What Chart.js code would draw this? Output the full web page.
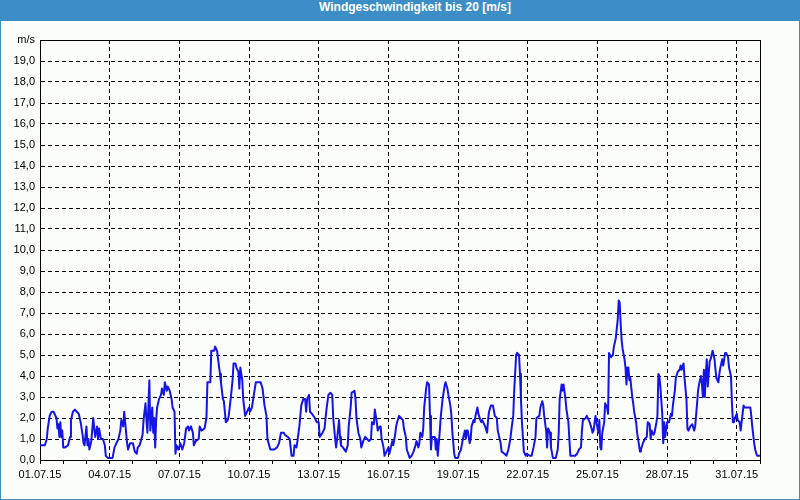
<!DOCTYPE html>
<html lang="de">
<head>
<meta charset="UTF-8">
<title>Windgeschwindigkeit</title>
<script src="https://cdn.jsdelivr.net/npm/chart.js"></script>
<style>
  body { margin: 0; background: #fff; }
  #wrap { width: 800px; height: 500px; box-sizing: border-box; border: 1px solid #3d8ec6; border-top: 0; background: #fbfdfb; }
  #head { height: 21px; line-height: 20px; background: #3d8ec6; color: #fff; font: bold 12px "Liberation Sans", Arial, sans-serif; text-align: center; padding-left: 30px; }
  canvas { display: block; }
</style>
</head>
<body>
<div id="wrap">
  <div id="head">Windgeschwindigkeit bis 20 [m/s]</div>
  <canvas id="wind" width="798" height="478"></canvas>
</div>
<script>
  // Stunden ab 01.07.15 00:00
  const hours = [0,5,7,8,10,12,14,17,18,19,20,21,22,23,24,26,29,31,32,34,36,38,40,42,44,45,46,48,49,50,51,53,55,57,59,60,61,63,65,67,68,70,74,75,77,81,83,84,86,87,88,90,91,93,96,98,100,101,103,106,107,109,110,111,113,114,116,117,118,119,120,121,123,125,126,128,129,131,132,134,136,137,139,140,141,143,145,147,149,151,153,154,156,158,159,161,164,165,167,170,172,173,176,177,180,181,183,184,186,187,189,190,192,194,195,197,199,200,202,203,205,206,207,209,210,212,214,216,217,219,221,223,226,228,230,232,234,235,238,242,245,247,249,252,253,256,258,260,262,263,265,266,268,270,272,274,275,276,278,279,281,284,286,288,289,292,294,296,298,300,302,303,305,306,307,309,310,311,313,316,318,319,321,322,325,326,327,329,331,332,334,336,338,340,342,343,345,346,348,349,351,352,353,355,356,358,360,361,362,364,365,367,368,369,371,373,375,376,378,379,382,384,386,388,389,391,392,393,395,396,397,399,400,402,403,404,405,408,409,410,411,413,414,416,418,419,421,422,424,425,426,428,429,432,433,435,437,439,440,441,442,444,445,446,448,449,450,452,453,455,456,457,460,462,463,464,466,468,470,472,473,475,476,477,480,482,484,486,487,489,490,492,493,495,496,497,498,500,502,503,506,508,510,512,513,516,517,519,520,521,523,524,525,527,528,530,533,535,536,537,539,540,541,543,544,546,547,548,550,553,555,557,559,560,561,564,565,567,568,570,571,572,574,575,577,578,579,580,581,583,584,586,587,588,590,592,593,595,597,598,599,600,601,602,604,605,606,607,608,609,610,612,613,614,616,617,619,620,621,623,625,627,628,630,631,632,634,635,637,638,639,640,641,643,644,645,646,648,650,652,653,654,656,657,659,661,662,663,665,666,668,669,670,672,674,676,677,679,680,681,683,684,685,686,687,688,689,690,692,693,695,697,698,699,701,702,703,705,706,708,709,711,712,714,715,716,717,718,720,721,723,724,725,727,728,732,734,735,736,738,739,741,742,744];
  // Windgeschwindigkeit in m/s
  const speed = [0.7,0.7,1.0,1.5,2.1,2.3,2.3,2.0,1.5,1.7,1.1,1.8,1.1,1.4,0.6,0.6,0.7,1.1,1.9,2.3,2.4,2.3,2.2,1.8,1.2,0.8,0.7,1.6,0.7,1.0,0.5,0.9,2.0,1.1,1.6,1.0,1.5,1.0,1.0,0.7,0.2,0.1,0.1,0.1,0.6,1.0,1.4,1.9,1.6,2.3,1.8,0.8,0.5,0.8,0.8,0.4,0.3,0.6,0.7,1.2,1.9,2.7,1.9,1.3,3.8,1.4,2.5,1.3,2.0,0.6,1.9,2.5,2.9,3.1,3.4,3.1,3.7,3.3,3.5,3.3,2.9,2.5,2.3,0.3,0.7,0.5,0.8,0.5,0.8,1.5,1.6,1.4,1.6,1.3,0.7,0.9,1.0,1.6,1.4,1.5,2.0,3.7,3.7,5.2,5.2,5.4,5.2,4.8,4.1,3.7,2.9,2.8,1.8,1.9,2.1,2.9,3.8,4.6,4.6,4.4,4.2,3.4,4.4,3.8,2.9,2.1,2.3,2.5,2.3,2.5,3.1,3.7,3.7,3.7,3.4,2.6,2.1,1.0,0.5,0.5,0.6,0.8,1.3,1.3,1.2,1.1,1.0,0.2,0.2,0.7,0.6,0.9,1.6,2.6,2.9,2.9,2.3,2.9,3.1,2.3,2.2,2.0,1.8,1.8,1.1,1.3,1.5,2.4,3.1,3.2,3.1,2.0,1.0,0.6,1.0,1.9,1.1,0.7,0.6,0.4,0.7,1.6,2.5,3.2,3.3,2.9,2.0,1.3,1.0,0.6,0.9,1.1,1.0,0.9,1.0,1.8,1.7,2.4,1.8,1.4,1.6,1.6,1.0,0.6,0.2,0.4,0.6,0.3,0.5,0.9,0.7,1.2,1.6,1.8,2.1,2.0,1.9,1.5,1.1,0.5,0.1,0.2,0.4,0.7,0.9,0.6,0.8,1.3,1.1,1.5,2.5,3.4,3.7,3.6,2.1,0.5,1.1,1.1,0.5,1.0,0.2,1.3,2.0,2.9,3.5,3.7,3.4,3.1,2.6,2.2,1.4,0.3,0.1,0.1,0.3,0.5,1.0,1.4,1.0,1.4,1.4,0.8,1.0,1.6,1.9,1.8,2.1,2.5,2.2,1.9,1.8,1.9,1.6,1.3,1.9,2.3,2.6,2.6,2.1,2.0,1.4,1.0,0.8,0.4,0.3,0.2,0.5,1.0,1.4,2.1,3.3,5.0,5.1,5.0,4.1,2.9,1.8,0.4,0.2,0.3,0.2,0.2,0.6,1.1,2.0,2.1,2.5,2.8,2.6,2.1,1.4,0.6,1.5,1.3,0.6,0.1,0.1,0.5,1.3,2.9,3.6,3.3,3.6,2.9,2.4,1.8,1.0,0.2,0.2,0.2,0.3,0.5,0.6,1.4,1.9,2.0,2.1,1.9,1.8,1.5,1.3,1.4,2.1,1.8,1.3,1.9,0.6,0.5,1.3,1.8,2.7,2.5,2.2,5.1,4.9,5.0,5.4,5.8,6.7,7.6,7.5,6.5,5.7,5.3,4.8,4.4,3.6,4.4,4.4,3.8,3.9,3.0,2.7,2.3,1.8,1.3,0.7,0.4,0.5,0.8,1.0,1.1,1.8,1.7,1.0,1.4,1.2,1.3,1.8,2.1,4.1,4.0,3.5,2.2,0.8,1.8,1.1,1.8,1.8,2.2,2.1,2.6,3.3,3.9,4.2,4.3,4.5,4.3,4.6,3.9,2.9,1.5,1.4,1.6,1.7,1.4,1.6,2.7,3.3,3.6,4.0,3.6,3.0,4.3,3.0,4.1,4.8,3.5,4.7,4.8,5.2,4.8,4.3,3.9,3.7,4.1,4.4,4.8,4.5,5.1,5.1,4.9,4.4,4.0,2.7,1.8,1.8,2.0,2.2,1.9,1.8,1.4,1.8,2.6,2.5,2.5,2.5,2.1,1.6,0.8,0.5,0.2,0.2,0.2];
  const dateLabels = ['01.07.15','04.07.15','07.07.15','10.07.15','13.07.15','16.07.15','19.07.15','22.07.15','25.07.15','28.07.15','31.07.15'];
  const yUnit = 'm/s';

  Chart.defaults.font.family = '"Liberation Sans", Arial, sans-serif';
  Chart.defaults.font.size = 11;
  Chart.defaults.color = '#000';

  // Rahmen um die Zeichenfläche
  const frame = {
    id: 'frame',
    beforeDatasetsDraw(chart) {
      const a = chart.chartArea, c = chart.ctx;
      c.save();
      c.strokeStyle = '#000';
      c.lineWidth = 1;
      c.strokeRect(Math.round(a.left) + 0.5, Math.round(a.top) + 0.5, Math.round(a.right - a.left), Math.round(a.bottom - a.top));
      c.restore();
    }
  };

  new Chart(document.getElementById('wind'), {
    type: 'line',
    data: {
      datasets: [{
        data: hours.map((h, i) => ({ x: h, y: speed[i] })),
        borderColor: '#1414e6',
        borderWidth: 2,
        borderJoinStyle: 'round',
        pointRadius: 0,
        tension: 0,
        fill: false
      }]
    },
    options: {
      responsive: false,
      animation: false,
      devicePixelRatio: 1,
      layout: { padding: { top: 19, right: 39, bottom: 0, left: 0 } },
      plugins: { legend: { display: false }, tooltip: { enabled: false } },
      scales: {
        x: {
          type: 'linear',
          min: 0,
          max: 744,
          afterBuildTicks: s => { s.ticks = Array.from({ length: 32 }, (_, i) => ({ value: i * 24 })); },
          afterFit: s => { s.height = 39; },
          ticks: {
            autoSkip: false,
            maxRotation: 0,
            padding: 4,
            callback: v => (v % 72 === 0 ? dateLabels[v / 72] : '')
          },
          grid: {
            color: c => (c.tick && c.tick.value % 72 === 0 && c.tick.value > 0 && c.tick.value < 744 ? '#000' : 'rgba(0,0,0,0)'),
            tickColor: '#000',
            tickLength: 4,
            borderDash: [4, 3]
          },
          border: { display: true, color: '#000', dash: [4, 3] }
        },
        y: {
          min: 0,
          max: 20,
          afterFit: s => { s.width = 39; },
          ticks: {
            stepSize: 1,
            padding: 5,
            callback: v => (v === 20 ? yUnit : v.toFixed(1).replace('.', ','))
          },
          grid: {
            color: c => (c.tick && c.tick.value > 0 && c.tick.value < 20 ? '#000' : 'rgba(0,0,0,0)'),
            drawTicks: false,
            borderDash: [4, 3]
          },
          border: { display: true, color: '#000', dash: [4, 3] }
        }
      }
    },
    plugins: [frame]
  });
</script>
</body>
</html>
